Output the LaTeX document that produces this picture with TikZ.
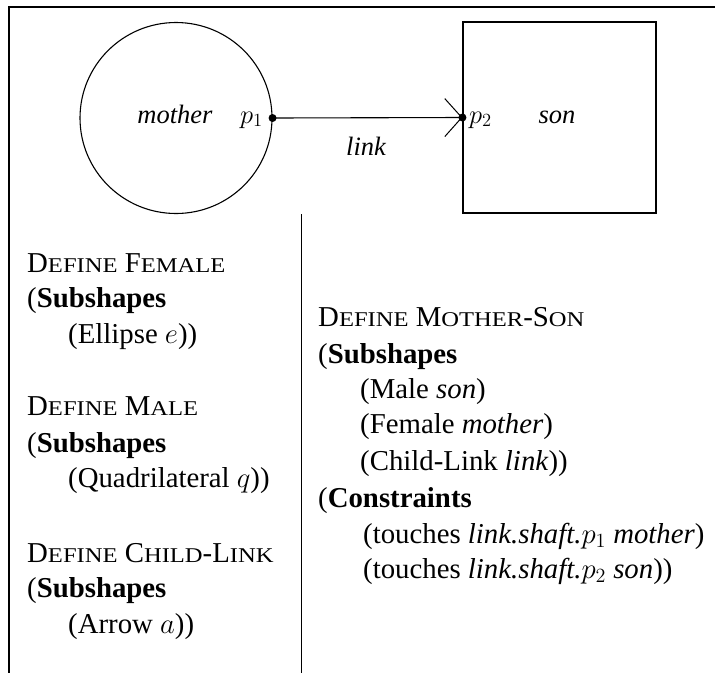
\documentclass[tikz,border=0pt]{standalone}
\usepackage{fontspec}
\setmainfont{LiberationSerif}[Extension=.ttf,UprightFont=*-Regular,ItalicFont=*-Italic,BoldFont=*-Bold,BoldItalicFont=*-BoldItalic]
\newfontfamily\scfont{LiberationSerif}[Extension=.ttf,UprightFont=*-Regular,FakeStretch=1.17]
\DeclareFontFamily{OML}{cmm}{\skewchar\font127}
\DeclareFontShape{OML}{cmm}{m}{it}{<->cmmi12}{}
\DeclareFontFamily{OT1}{cmr}{}
\DeclareFontShape{OT1}{cmr}{m}{n}{<->cmr12}{}
\usetikzlibrary{arrows.meta,shapes.geometric}
\newcommand\fsc[1]{{\scfont\fontsize{21}{21}\selectfont #1}}
\begin{document}
\begin{tikzpicture}[x=1pt,y=-1pt,
  txt/.style={anchor=base west,inner sep=0pt,font=\fontsize{28.8}{32}\selectfont},
  lbl/.style={inner sep=0pt,font=\fontsize{26.5}{30}\selectfont\itshape},
  frame/.style={line width=1.3pt},
  shp/.style={draw,line width=1.1pt,inner sep=0pt},
  dot/.style={circle,fill,inner sep=0pt,minimum size=8pt}]
\useasboundingbox (0,0) rectangle (715,673);
% frame
\coordinate (tl) at (9,7);
\coordinate (tr) at (715,7);
\coordinate (bl) at (9,673);
\coordinate (dt) at (301,214);
\coordinate (db) at (301,673);
\draw[frame] (tr) -- (tl) -- (bl);
\draw[line width=1pt] (dt) -- (db);
% shapes
\node[shp,ellipse,minimum width=192pt,minimum height=191pt] (mother) at (176,118) {};
\node[shp,rectangle,minimum width=193pt,minimum height=191pt] (son) at (559.5,117.5) {};
\node[dot] (p1) at (mother.east) {};
\node[dot] (p2) at (son.west) {};
\draw[line width=1.1pt,-{Straight Barb[length=17pt,width=38pt,line width=1pt]}] (p1.center) -- (p2.center);
\node[lbl,anchor=base] (lm) at (175,123) {mother};
\node[lbl,anchor=base east] (lp1) at (263,123) {\upshape$p_1$};
\node[lbl,anchor=base west] (lp2) at (469,123) {\upshape$p_2$};
\node[lbl,anchor=base] (ls) at (557,123) {son};
\node[lbl,anchor=base] (ll) at (366,155) {link};
% left column
\node[txt] (a1) at (27,272) {D\fsc{EFINE} F\fsc{EMALE}};
\node[txt] (a2) at (27,307) {(\textbf{Subshapes}};
\node[txt] (a3) at (68,343) {(Ellipse $e$))};
\node[txt] (b1) at (27,415) {D\fsc{EFINE} M\fsc{ALE}};
\node[txt] (b2) at (27,452) {(\textbf{Subshapes}};
\node[txt] (b3) at (68,487) {(Quadrilateral $q$))};
\node[txt] (c1) at (27,562) {D\fsc{EFINE} C\fsc{HILD}-L\fsc{INK}};
\node[txt] (c2) at (27,597) {(\textbf{Subshapes}};
\node[txt] (c3) at (68,633) {(Arrow $a$))};
% right column
\node[txt] (d1) at (318,326) {D\fsc{EFINE} M\fsc{OTHER}-S\fsc{ON}};
\node[txt] (d2) at (318,363) {(\textbf{Subshapes}};
\node[txt] (d3) at (360,398) {(Male \textit{son})};
\node[txt] (d4) at (360,433) {(Female \textit{mother})};
\node[txt] (d5) at (360,470) {(Child-Link \textit{link}))};
\node[txt] (d6) at (318,507) {(\textbf{Constraints}};
\node[txt] (d7) at (363,543) {(touches \textit{link.shaft.}$p_1$ \textit{mother})};
\node[txt] (d8) at (363,578) {(touches \textit{link.shaft.}$p_2$ \textit{son}))};
\end{tikzpicture}
\end{document}
